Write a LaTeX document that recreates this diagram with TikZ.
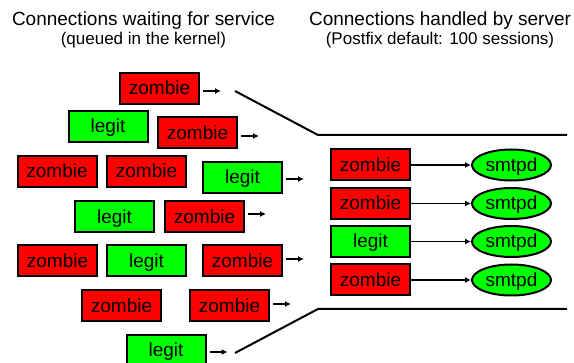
\documentclass[tikz,border=0pt]{standalone}
\usepackage{fontspec}
\setmainfont{Liberation Sans}
\usetikzlibrary{arrows.meta,shapes.geometric}
\definecolor{zred}{RGB}{255,0,0}
\definecolor{lgreen}{RGB}{0,255,0}
\tikzset{
  conn/.style={draw=black, line width=2pt, minimum width=79pt, minimum height=31pt,
    inner sep=0pt, text height=16pt, text depth=3pt,
    font=\fontsize{19}{22}\selectfont},
  zombie/.style={conn, fill=zred},
  legit/.style={conn, fill=lgreen},
  daemon/.style={ellipse, draw=black, line width=2pt, fill=lgreen, minimum width=79pt,
    minimum height=31pt, inner sep=0pt, text height=16pt, text depth=3pt,
    font=\fontsize{19}{22}\selectfont},
  qarrow/.style={line width=2pt, -{Latex[length=6pt,width=6pt]}},
  sarrow/.style={line width=1.4pt, -{Latex[length=6pt,width=6pt]}},
  funnel/.style={line width=2pt},
  title/.style={anchor=base, inner sep=0pt, font=\fontsize{19}{22}\selectfont},
  subtitle/.style={anchor=base, inner sep=0pt, font=\fontsize{17}{20}\selectfont}
}
\begin{document}
\begin{tikzpicture}[x=1pt, y=-1pt]
\useasboundingbox (0,0) rectangle (574,363);

% headings
\node[title] (hl) at (143.5,26) {Connections waiting for service};
\node[subtitle] (sl) at (143.5,45) {(queued in the kernel)};
\node[title] (hr) at (440,26) {Connections handled by server};
\node[subtitle] (sr) at (440,45) {(Postfix default: 100 sessions)};

% kernel queue
\node[zombie] (q1)  at (159.5,88.5) {zombie};
\node[legit]  (q2)  at (108,126.5)  {legit};
\node[zombie] (q3)  at (197.5,133)  {zombie};
\node[zombie] (q4)  at (57,171.5)   {zombie};
\node[zombie] (q5)  at (146.5,171.5){zombie};
\node[legit]  (q6)  at (242.5,177.5){legit};
\node[legit]  (q7)  at (114.5,217)  {legit};
\node[zombie] (q8)  at (204.5,217)  {zombie};
\node[zombie] (q9)  at (57.5,261)   {zombie};
\node[legit]  (q10) at (146.5,261)  {legit};
\node[zombie] (q11) at (242.5,261)  {zombie};
\node[zombie] (q12) at (121.5,306)  {zombie};
\node[zombie] (q13) at (229.5,306)  {zombie};
\node[legit]  (q14) at (166,350.5)  {legit};

% short arrows leaving the queue
\foreach \n/\dy in {q1/2.5, q3/3, q6/1.5, q8/-3, q11/-2, q13/-2, q14/1.5} {
  \coordinate (s\n) at ([xshift=3pt, yshift=-\dy pt]\n.east);
  \coordinate (e\n) at ([xshift=21pt, yshift=-\dy pt]\n.east);
  \draw[qarrow] (s\n) -- (e\n);
}

% funnel walls
\coordinate (ft0) at (235,91);
\coordinate (ft1) at (318,135);
\coordinate (ft2) at (567,135);
\coordinate (fb0) at (235,353);
\coordinate (fb1) at (318,309);
\coordinate (fb2) at (567,309);
\draw[funnel] (ft0) -- (ft1) -- (ft2);
\draw[funnel] (fb0) -- (fb1) -- (fb2);

% server sessions
\node[zombie] (c1) at (370.5,165)   {zombie};
\node[zombie] (c2) at (370.5,203.5) {zombie};
\node[legit]  (c3) at (370.5,241.5) {legit};
\node[zombie] (c4) at (370.5,280)   {zombie};
\node[daemon] (d1) at (511.5,165)   {smtpd};
\node[daemon] (d2) at (511.5,203.5) {smtpd};
\node[daemon] (d3) at (511.5,241.5) {smtpd};
\node[daemon] (d4) at (511.5,280)   {smtpd};
\foreach \i in {1,...,4} {
  \draw[sarrow] (c\i.east) -- (d\i.west);
}
\end{tikzpicture}
\end{document}
